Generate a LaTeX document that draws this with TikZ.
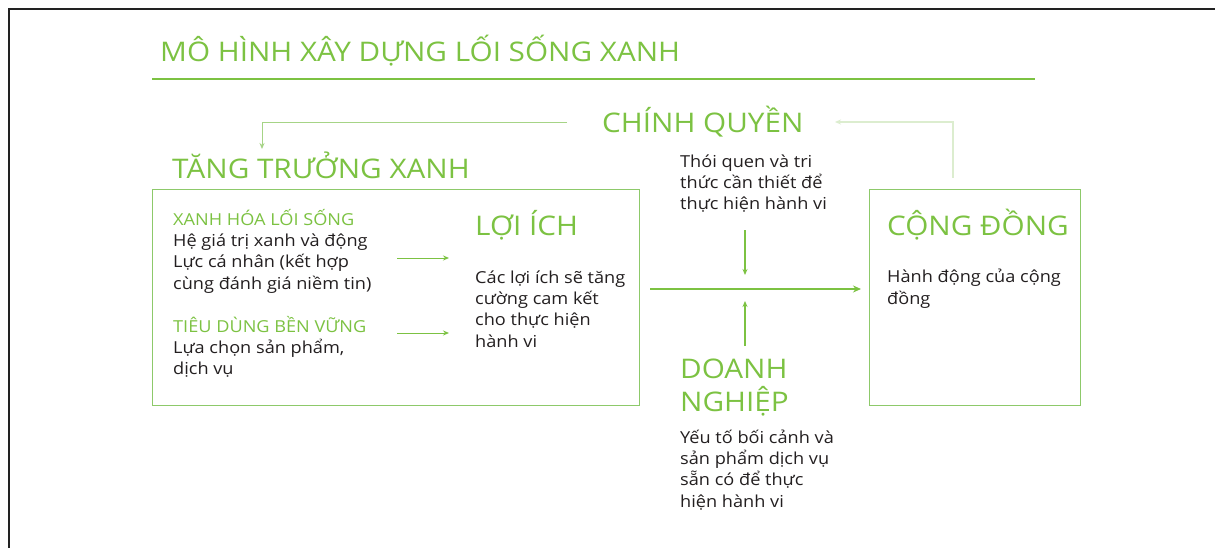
\documentclass[tikz,border=0pt]{standalone}
\usepackage{fontspec}
\setmainfont{Open Sans}[FakeStretch=1.1]
\usetikzlibrary{arrows.meta}
\definecolor{gr}{HTML}{7CC242}
\definecolor{boxgr}{HTML}{8DC96A}
\definecolor{lightgr}{HTML}{A6D486}
\definecolor{palegr}{HTML}{DCEDCF}
\definecolor{ink}{HTML}{231F20}
\definecolor{framec}{HTML}{222222}
\begin{document}
\begin{tikzpicture}[x=1pt,y=-1pt,
  head/.style={inner sep=0pt, anchor=base west, align=left, text=gr, font=\fontsize{27}{33}\selectfont},
  subhead/.style={inner sep=0pt, anchor=base west, text=gr, font=\fontsize{16.5}{21.3}\selectfont},
  body/.style={inner sep=0pt, anchor=base west, align=left, text=ink, font=\fontsize{16.5}{21.3}\selectfont},
  panel/.style={draw=boxgr, line width=1.2pt, anchor=north west, inner sep=0pt},
  arr/.style={draw=gr, line width=1pt, -{Stealth[length=6pt,width=5pt]}},
  bigarr/.style={draw=gr, line width=2.2pt, -{Stealth[length=8pt,width=7pt]}},
  backarr/.style={draw=lightgr, line width=1pt, -{Stealth[length=6pt,width=5pt]}},
  palearr/.style={draw=palegr, line width=1.2pt, -{Stealth[length=6pt,width=5pt]}},
]
\useasboundingbox (0,0) rectangle (1215,548);
\fill[white] (0,0) rectangle (1215,548);
% frame
\coordinate (fbl) at (9,548);
\coordinate (ftl) at (9,9);
\coordinate (ftr) at (1215,9);
\draw[framec, line width=1.5pt] (fbl) -- (ftl) -- (ftr);

% title
\node[head] (title) at (160,62) {MÔ HÌNH XÂY DỰNG LỐI SỐNG XANH};
\coordinate (ulL) at (152,79);
\coordinate (ulR) at (1035,79);
\draw[gr, line width=2.8pt] (ulL) -- (ulR);

% chinh quyen
\node[head] (cq) at (602,133) {CHÍNH QUYỀN};
% tang truong xanh
\node[head] (tt) at (172,179) {TĂNG TRƯỞNG XANH};

% panels
\node[panel, minimum width=487pt, minimum height=216pt] (lb) at (152,189) {};
\node[panel, minimum width=211pt, minimum height=216pt] (rb) at (869,189) {};

% left panel content (multi-line nodes anchored at the baseline of their last line)
\node[subhead] (xh) at (173,225.7) {XANH HÓA LỐI SỐNG};
\node[body] (xhb) at (173,289) {Hệ giá trị xanh và động\\Lực cá nhân (kết hợp\\cùng đánh giá niềm tin)};
\node[subhead] (td) at (173,332) {TIÊU DÙNG BỀN VỮNG};
\node[body] (tdb) at (173,374.5) {Lựa chọn sản phẩm,\\dịch vụ};

\node[head] (li) at (475,235) {LỢI ÍCH};
\node[body] (lib) at (475,347) {Các lợi ích sẽ tăng\\cường cam kết\\cho thực hiện\\hành vi};

% middle
\node[body] (tq) at (680,210) {Thói quen và tri\\thức cần thiết để\\thực hiện hành vi};
\node[head] (dn) at (680,411) {DOANH\\NGHIỆP};
\node[body] (dnb) at (680,507) {Yếu tố bối cảnh và\\sản phẩm dịch vụ\\sẵn có để thực\\hiện hành vi};

% right panel content
\node[head] (cd) at (887,235) {CỘNG ĐỒNG};
\node[body] (cdb) at (887,304) {Hành động của cộng\\đồng};

% arrows
\coordinate (a1s) at (397,258); \coordinate (a1e) at (449,258);
\draw[arr] (a1s) -- (a1e);
\coordinate (a2s) at (397,333); \coordinate (a2e) at (449,333);
\draw[arr] (a2s) -- (a2e);

\coordinate (ms) at (650,289); \coordinate (me) at (861,289);
\draw[bigarr] (ms) -- (me);

\coordinate (ds) at (745,230); \coordinate (de) at (745,275);
\draw[arr, line width=1.6pt] (ds) -- (de);
\coordinate (us) at (745,346); \coordinate (ue) at (745,301);
\draw[arr, line width=1.6pt] (us) -- (ue);

\coordinate (cqs) at (567,123); \coordinate (tte) at (262,149);
\draw[backarr] (cqs) -| (tte);

\coordinate (cds) at (953,178); \coordinate (cqe) at (835,122);
\draw[palearr] (cds) |- (cqe);
\end{tikzpicture}
\end{document}
